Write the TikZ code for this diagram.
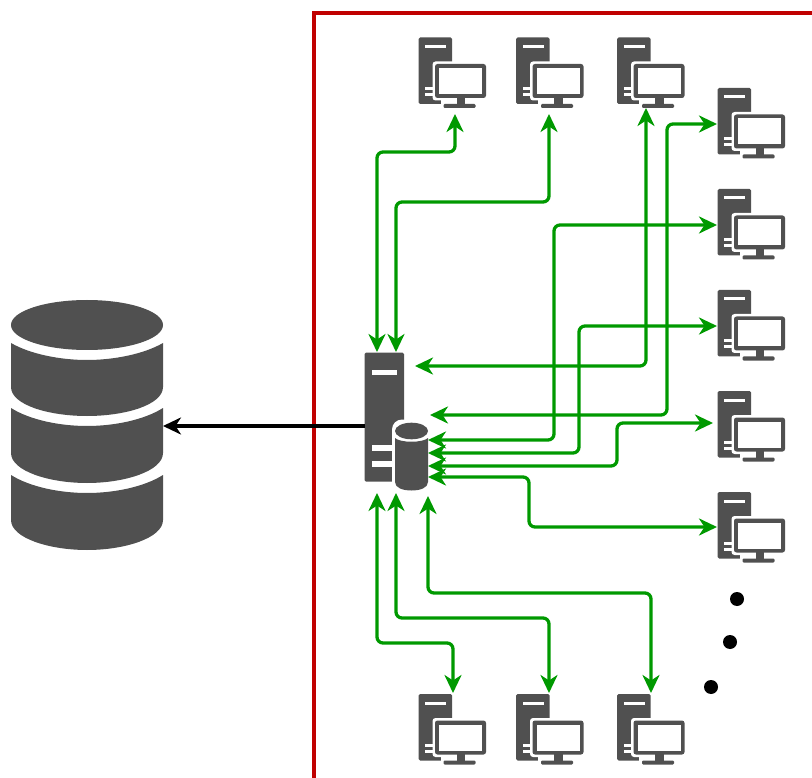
\documentclass[tikz,border=0pt]{standalone}
\usetikzlibrary{arrows.meta}
\definecolor{icon}{HTML}{505050}
\definecolor{frame}{HTML}{C00000}
\definecolor{link}{HTML}{009900}
\tikzset{
  pcicon/.pic={
    \fill[icon,rounded corners=1.5pt] (0,0) rectangle (33.5,66.5);
    \fill[white] (6.5,7.5) rectangle (27.5,10.5);
    \fill[white] (6.5,49.5) rectangle (18,52.5);
    \fill[white] (6.5,55.5) rectangle (18,58.5);
    \fill[white,rounded corners=3pt] (14,24) rectangle (70,63);
    \fill[white] (22,60) rectangle (60,72);
    \fill[icon,rounded corners=2.5pt] (16.5,26.5) rectangle (67.5,60.5);
    \fill[white] (20.5,30.5) rectangle (63.5,56.5);
    \fill[icon] (38,60) rectangle (46.5,67);
    \fill[icon,rounded corners=1.2pt] (25,66.5) rectangle (57,70.5);
  },
  link/.style={draw=link,line width=3.3pt,rounded corners=6pt,
    {Stealth[length=18pt,width=17pt,inset=5.5pt]}-{Stealth[length=18pt,width=17pt,inset=5.5pt]}},
  feed/.style={draw=black,line width=3.3pt,-{Stealth[length=18pt,width=17pt,inset=5.5pt]}},
  ghost/.style={inner sep=0pt,outer sep=0pt,draw=none},
  dotmark/.style={circle,fill=black,inner sep=0pt,minimum size=14pt}
}
\begin{document}
\begin{tikzpicture}[x=1pt,y=-1pt]
\useasboundingbox (0,0) rectangle (812,778);
% frame
\draw[frame,line width=3.6pt] (314,778) -- (314,13) -- (812,13);
% database
\fill[icon] (87,325) ellipse [x radius=76,y radius=25];
\fill[icon] (11,343) .. controls (30,354) and (60,360) .. (87,360) .. controls (114,360) and (144,354) .. (163,343) -- (163,387)
  .. controls (163,405) and (125,416) .. (87,416) .. controls (49,416) and (11,405) .. (11,387) -- cycle;
\fill[icon] (11,408) .. controls (30,420) and (60,426) .. (87,426) .. controls (114,426) and (144,420) .. (163,408) -- (163,453)
  .. controls (163,471) and (125,483) .. (87,483) .. controls (49,483) and (11,471) .. (11,453) -- cycle;
\fill[icon] (11,475) .. controls (30,487) and (60,493) .. (87,493) .. controls (114,493) and (144,487) .. (163,475) -- (163,520)
  .. controls (163,538) and (125,550) .. (87,550) .. controls (49,550) and (11,538) .. (11,520) -- cycle;
\node[ghost,minimum width=152pt,minimum height=250pt] (db) at (87,425) {};
% server
\fill[icon,rounded corners=1.5pt] (364.5,352.7) rectangle (404,481.7);
\fill[white] (372,369.5) rectangle (397,375);
\fill[white] (372,445) rectangle (393,451);
\fill[white] (372,461) rectangle (393,467);
\fill[white,rounded corners=10pt] (392,419.5) rectangle (431,493);
\fill[icon] (395,438) .. controls (400,443) and (423,443) .. (428,438) -- (428,482)
  .. controls (428,488) and (420,490.5) .. (411.5,490.5) .. controls (403,490.5) and (395,488) .. (395,482) -- cycle;
\fill[icon] (411.5,431) ellipse [x radius=16.5,y radius=8.3];
\node[ghost,minimum width=64pt,minimum height=138pt] (server) at (396.5,421.5) {};
% computers
\foreach \nm/\px/\py in {top1/418.5/37.5,top2/516/37.5,top3/617/37.5,
  r1/717.5/88,r2/717.5/189,r3/717.5/290,r4/717.5/391,r5/717.5/492,
  bot1/418.5/694,bot2/516/694,bot3/617/694}{
  \pic at (\px,\py) {pcicon};
  \node[ghost,minimum width=67pt,minimum height=70pt] (\nm) at (\px+33.5,\py+35) {};
}
% dots
\node[dotmark] (d1) at (737,599) {};
\node[dotmark] (d2) at (730,642) {};
\node[dotmark] (d3) at (711,687) {};
% connector ends
\coordinate (sa) at (377,352);
\coordinate (sb) at (396,352);
\coordinate (sc) at (415,366);
\coordinate (sd) at (430,415);
\coordinate (se) at (428,440);
\coordinate (sf) at (428,453);
\coordinate (sg) at (428,466);
\coordinate (sh) at (428,477);
\coordinate (si) at (377,493);
\coordinate (sj) at (396,493);
\coordinate (sk) at (428,496);
\coordinate (ta) at (455,114);
\coordinate (tb) at (549,114);
\coordinate (tc) at (646,108);
\coordinate (td) at (717,124);
\coordinate (te) at (717,225);
\coordinate (tf) at (717,326);
\coordinate (tg) at (713,423);
\coordinate (th) at (717,527);
\coordinate (ti) at (453,693);
\coordinate (tj) at (549,693);
\coordinate (tk) at (651,693);
\coordinate (fa) at (364.5,426);
\coordinate (fb) at (163,426);
% connectors
\draw[link] (sa) |- (415,152) -| (ta);
\draw[link] (sb) |- (470,202) -| (tb);
\draw[link] (sc) -| (tc);
\draw[link] (sd) -| (667,270) |- (td);
\draw[link] (se) -| (554,330) |- (te);
\draw[link] (sf) -| (579,390) |- (tf);
\draw[link] (sg) -| (617,445) |- (tg);
\draw[link] (sh) -| (529,500) |- (th);
\draw[link] (si) |- (415,643) -| (ti);
\draw[link] (sj) |- (470,618) -| (tj);
\draw[link] (sk) |- (540,593) -| (tk);
\draw[feed] (fa) -- (fb);
\end{tikzpicture}
\end{document}
